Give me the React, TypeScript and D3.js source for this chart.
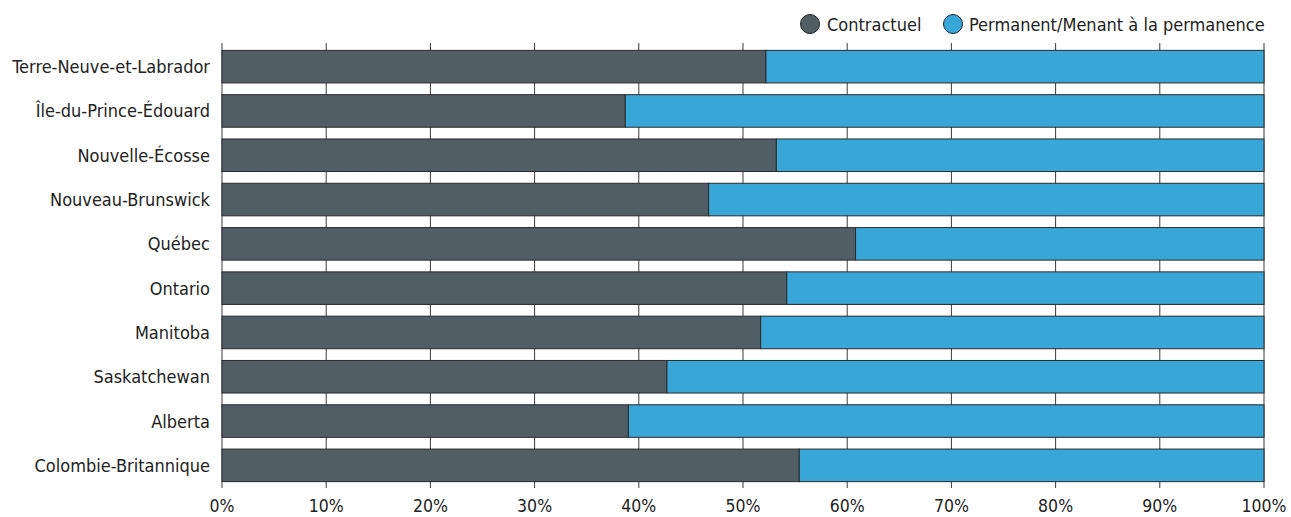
import React from "react";
import * as d3 from "d3";

const categories = [
  "Terre-Neuve-et-Labrador",
  "Île-du-Prince-Édouard",
  "Nouvelle-Écosse",
  "Nouveau-Brunswick",
  "Québec",
  "Ontario",
  "Manitoba",
  "Saskatchewan",
  "Alberta",
  "Colombie-Britannique",
];
const contractuel = [52.2, 38.7, 53.2, 46.7, 60.8, 54.2, 51.7, 42.7, 39.0, 55.4];
const permanent = contractuel.map((v) => 100 - v);
const seriesNames = ["Contractuel", "Permanent/Menant à la permanence"];
const colors = ["#525e66", "#38a6d6"];
const xTicks = [0, 10, 20, 30, 40, 50, 60, 70, 80, 90, 100];

const W = 1291;
const H = 517;
const font = "'DejaVu Sans Condensed', 'DejaVu Sans', sans-serif";

export default function App() {
  const x = d3.scaleLinear().domain([0, 100]).range([222, 1264]);
  const y = d3
    .scaleBand<string>()
    .domain(categories)
    .range([44.5, 487.5])
    .paddingInner(0.265)
    .paddingOuter(0.1325);
  const bw = y.bandwidth();
  return (
    <svg
      width={W}
      height={H}
      style={{ position: "absolute", left: 0, top: 0, background: "#fff" }}
      fontFamily={font}
    >
      {xTicks.map((t) => (
        <line key={t} x1={x(t)} x2={x(t)} y1={43} y2={488} stroke="#3a3a3a" strokeWidth={1} />
      ))}
      {categories.map((c, i) => (
        <g key={c}>
          <rect
            x={x(0)}
            y={y(c)}
            width={x(contractuel[i]) - x(0)}
            height={bw}
            fill={colors[0]}
            stroke="#2a2a2a"
            strokeWidth={1}
          />
          <rect
            x={x(contractuel[i])}
            y={y(c)}
            width={x(contractuel[i] + permanent[i]) - x(contractuel[i])}
            height={bw}
            fill={colors[1]}
            stroke="#2a2a2a"
            strokeWidth={1}
          />
          <text
            x={210}
            y={(y(c) as number) + bw / 2}
            textAnchor="end"
            dominantBaseline="central"
            fontSize={18}
            fill="#222"
          >
            {c}
          </text>
        </g>
      ))}
      {xTicks.map((t) => (
        <text key={t} x={x(t)} y={506} textAnchor="middle" dominantBaseline="central" fontSize={17.5} fill="#222">
          {t}%
        </text>
      ))}
      <g>
        <circle cx={810} cy={24} r={9.5} fill={colors[0]} stroke="#222" strokeWidth={1} />
        <text x={827} y={24} dominantBaseline="central" fontSize={18} fill="#222">
          {seriesNames[0]}
        </text>
        <circle cx={953} cy={24} r={9.5} fill={colors[1]} stroke="#222" strokeWidth={1} />
        <text x={969} y={24} dominantBaseline="central" fontSize={18} fill="#222">
          {seriesNames[1]}
        </text>
      </g>
    </svg>
  );
}
